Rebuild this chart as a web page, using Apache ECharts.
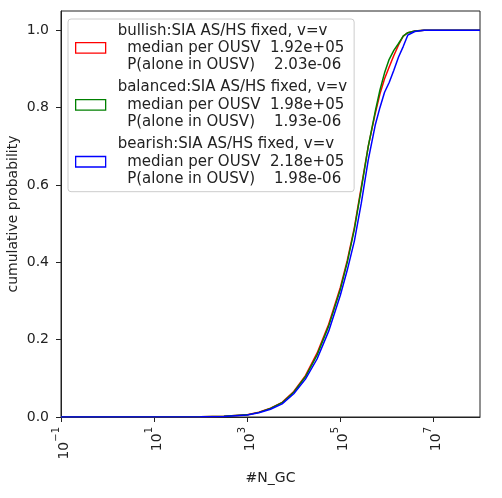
<!DOCTYPE html>
<html>
<head>
<meta charset="utf-8">
<title>cumulative N_GC</title>
<script src="https://cdn.jsdelivr.net/npm/echarts@6/dist/echarts.min.js"></script>
<style>html,body{margin:0;padding:0;background:#fff;}</style>
</head>
<body>
<div id="main" style="width:502px;height:498px;"></div>
<script>
// series labels and legend numbers
var seriesNames = ['bullish:SIA AS/HS fixed, v=v', 'balanced:SIA AS/HS fixed, v=v', 'bearish:SIA AS/HS fixed, v=v'];
var seriesColors = ['#ff0000', '#008000', '#0000ff'];
var medians = ['1.92e+05', '1.98e+05', '2.18e+05'];
var pAlone = ['2.03e-06', '1.93e-06', '1.98e-06'];

// N_GC values (shared x) and cumulative probability per scenario
var nGC = [1e-1, 1e2, 3.16e2, 1e3, 1.78e3, 3.16e3, 5.62e3, 1e4, 1.78e4, 3.16e4, 5.62e4,
           1e5, 1.41e5, 2e5, 2.82e5, 3.98e5, 5.62e5, 7.08e5, 8.91e5, 1.12e6, 1.41e6,
           1.78e6, 2.24e6, 2.82e6, 3.98e6, 6.31e6, 1e7, 1e8];
var bullish  = [0, 0.0005, 0.0018, 0.006, 0.0125, 0.023, 0.038, 0.066, 0.107, 0.165, 0.24,
                0.335, 0.405, 0.49, 0.595, 0.70, 0.785, 0.835, 0.875, 0.905, 0.935,
                0.962, 0.985, 0.994, 0.998, 1.0, 1.0, 1.0];
var balanced = [0, 0.0005, 0.0017, 0.0055, 0.012, 0.022, 0.037, 0.064, 0.104, 0.16, 0.235,
                0.33, 0.40, 0.485, 0.59, 0.70, 0.79, 0.845, 0.89, 0.925, 0.948,
                0.966, 0.985, 0.994, 0.998, 1.0, 1.0, 1.0];
var bearish  = [0, 0.0005, 0.0015, 0.005, 0.011, 0.02, 0.034, 0.06, 0.098, 0.15, 0.222,
                0.315, 0.38, 0.455, 0.553, 0.665, 0.755, 0.80, 0.84, 0.865, 0.897,
                0.931, 0.958, 0.988, 0.997, 1.0, 1.0, 1.0];

var xTicks = [1e-1, 1e1, 1e3, 1e5, 1e7];
var yTicks = [0, 0.2, 0.4, 0.6, 0.8, 1.0];

var allY = [bullish, balanced, bearish];
var FONT = 'DejaVu Sans';

function pairs(xs, ys) {
    var res = [];
    for (var i = 0; i < xs.length; i++) res.push([xs[i], ys[i]]);
    return res;
}

var series = [];
for (var i = 0; i < seriesNames.length; i++) {
    series.push({
        name: seriesNames[i],
        type: 'line',
        data: pairs(nGC, allY[i]),
        showSymbol: false,
        symbol: 'none',
        animation: false,
        lineStyle: { color: seriesColors[i], width: 1.5 },
        itemStyle: { color: seriesColors[i] }
    });
}

var legendData = seriesNames.map(function (n, i) {
    return {
        name: n,
        icon: 'rect',
        itemStyle: { color: 'transparent', borderColor: seriesColors[i], borderWidth: 1.3 }
    };
});

option = {
    backgroundColor: '#fff',
    textStyle: { fontFamily: FONT },
    grid: {
        left: 61, right: 22, top: 11, bottom: 81,
        containLabel: false,
        outerBoundsMode: 'none',
        show: true, borderColor: '#222', borderWidth: 1, backgroundColor: 'transparent'
    },
    legend: {
        orient: 'vertical',
        left: 68,
        top: 19,
        padding: [3, 7, 4, 7],
        itemGap: 5,
        itemWidth: 30,
        itemHeight: 10.5,
        backgroundColor: 'rgba(255,255,255,0.8)',
        borderColor: '#cccccc',
        borderWidth: 1,
        borderRadius: 3,
        data: legendData,
        formatter: function (name) {
            var k = seriesNames.indexOf(name);
            // matplotlib label lines, indented with two spaces
            return name + '\n  median per OUSV  ' + medians[k] + '\n  P(alone in OUSV)    ' + pAlone[k];
        },
        textStyle: {
            fontFamily: FONT, fontSize: 15, color: '#222', lineHeight: 17.3,
            padding: [0, 0, 0, 7]
        }
    },
    xAxis: {
        type: 'log',
        logBase: 10,
        min: 1e-1,
        max: 1e8,
        name: '#N_GC',
        nameLocation: 'middle',
        nameGap: 54,
        nameMoveOverlap: false,
        nameTextStyle: { fontFamily: FONT, fontSize: 14, color: '#222' },
        axisLine: { show: true, lineStyle: { color: '#222', width: 1 } },
        axisTick: { show: true, length: 5, lineStyle: { color: '#222' }, customValues: xTicks },
        splitLine: { show: false },
        minorTick: { show: false },
        axisLabel: {
            rotate: 90,
            margin: 10,
            customValues: xTicks,
            fontFamily: FONT,
            fontSize: 14,
            color: '#222',
            formatter: function (v) {
                var e = Math.round(Math.log10(v));
                var es = e < 0 ? '\u2212' + (-e) : '' + e;
                return '{b|10}{s|' + es + '}';
            },
            rich: {
                b: { fontFamily: FONT, fontSize: 14, color: '#222', lineHeight: 20, verticalAlign: 'bottom' },
                s: { fontFamily: FONT, fontSize: 10, color: '#222', lineHeight: 20, verticalAlign: 'top' }
            }
        }
    },
    yAxis: {
        type: 'value',
        min: 0,
        max: 1.05,
        name: 'cumulative probability',
        nameLocation: 'middle',
        nameGap: 41,
        nameMoveOverlap: false,
        nameTextStyle: { fontFamily: FONT, fontSize: 14, color: '#222' },
        axisLine: { show: true, lineStyle: { color: '#222', width: 1 } },
        axisTick: { show: true, length: 5, lineStyle: { color: '#222' }, customValues: yTicks },
        splitLine: { show: false },
        axisLabel: {
            margin: 12,
            customValues: yTicks,
            fontFamily: FONT,
            fontSize: 14,
            color: '#222',
            formatter: function (v) { return v.toFixed(1); }
        }
    },
    series: series
};

var myChart = echarts.init(document.getElementById('main'));
myChart.setOption(option);
</script>
</body>
</html>
